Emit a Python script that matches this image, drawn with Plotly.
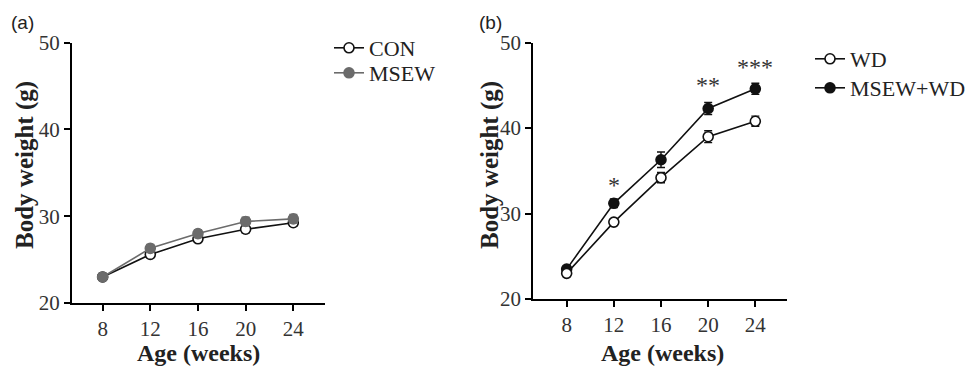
import plotly.graph_objects as go

weeks = [8, 12, 16, 20, 24]
week_ticks = ["8", "12", "16", "20", "24"]
y_ticks = [20, 30, 40, 50]

# Panel (a)
con_mean = [23.0, 25.6, 27.4, 28.5, 29.25]
con_err = [0.3, 0.35, 0.35, 0.4, 0.4]
msew_mean = [23.0, 26.3, 28.0, 29.4, 29.7]
msew_err = [0.3, 0.45, 0.45, 0.5, 0.5]

# Panel (b)
wd_mean = [23.0, 29.0, 34.2, 39.0, 40.8]
wd_err = [0.25, 0.35, 0.6, 0.7, 0.6]
mwd_mean = [23.5, 31.2, 36.3, 42.3, 44.6]
mwd_err = [0.25, 0.5, 0.9, 0.7, 0.65]

sig_weeks = [12, 20, 24]
sig_labels = ["*", "**", "***"]
sig_y = [33.4, 45.1, 47.2]

SERIF = "Liberation Serif, Times New Roman, serif"
GRAY = "#6b6b6b"

W, H = 973, 371

fig = go.Figure()

def add_series(x, y, e, name, color, fill, xa, ya, legend):
    fig.add_trace(go.Scatter(
        x=x, y=y, name=name, mode="lines+markers",
        xaxis=xa, yaxis=ya, legend=legend,
        line=dict(color=color, width=1.6),
        marker=dict(symbol="circle", size=10, color=fill,
                    line=dict(color=color, width=1.6)),
        error_y=dict(type="data", array=e, visible=True, color=color,
                     thickness=1.4, width=4),
    ))

add_series(weeks, con_mean, con_err, "CON", "#111111", "white", "x", "y", "legend")
add_series(weeks, msew_mean, msew_err, "MSEW", GRAY, GRAY, "x", "y", "legend2")
add_series(weeks, mwd_mean, mwd_err, "MSEW+WD", "#111111", "#111111", "x2", "y2", "legend4")
add_series(weeks, wd_mean, wd_err, "WD", "#111111", "white", "x2", "y2", "legend3")

def xd(p0, p1):
    return [p0 / W, p1 / W]

def yd(top, bottom):
    return [1 - bottom / H, 1 - top / H]

axis_common = dict(
    showline=True, linecolor="black", linewidth=2,
    ticks="outside", ticklen=6, tickwidth=2, tickcolor="black",
    showgrid=False, zeroline=False, automargin=False,
    tickfont=dict(family=SERIF, size=21, color="#333333"),
)

def leg(xpix, ypix):
    return dict(x=xpix / W, y=1 - ypix / H, xanchor="left", yanchor="middle",
                font=dict(family=SERIF, size=22, color="#222222"),
                bgcolor="rgba(0,0,0,0)", itemwidth=30)

fig.update_layout(
    width=W, height=H,
    margin=dict(l=0, r=0, t=0, b=0, pad=0),
    paper_bgcolor="white", plot_bgcolor="white",
    xaxis=dict(domain=xd(72, 325), range=[5.43, 26.66], anchor="y",
               tickvals=weeks, ticktext=week_ticks, **axis_common),
    yaxis=dict(domain=yd(42.7, 303), range=[20, 50], anchor="x",
               tickvals=y_ticks, **axis_common),
    xaxis2=dict(domain=xd(533.3, 786.7), range=[5.17, 26.66], anchor="y2",
                tickvals=weeks, ticktext=week_ticks, **axis_common),
    yaxis2=dict(domain=yd(42.7, 299), range=[20, 50], anchor="x2",
                tickvals=y_ticks, **axis_common),
    legend=leg(329, 48),
    legend2=leg(329, 73),
    legend3=leg(810, 59),
    legend4=leg(810, 88),
    showlegend=True,
)

annotations = []
for txt, x in [("(a)", 22), ("(b)", 490)]:
    annotations.append(dict(text=txt, x=x / W, y=1 - 22 / H, xref="paper", yref="paper",
                            showarrow=False, xanchor="center", yanchor="middle",
                            font=dict(family="Liberation Sans, Arial, sans-serif", size=19, color="#222222")))
for x in [25, 490]:
    annotations.append(dict(text="<b>Body weight (g)</b>", x=x / W, y=1 - 165 / H,
                            xref="paper", yref="paper", showarrow=False, textangle=-90,
                            xanchor="center", yanchor="middle",
                            font=dict(family=SERIF, size=25, color="#222222")))
for x in [198, 662]:
    annotations.append(dict(text="<b>Age (weeks)</b>", x=x / W, y=1 - 353 / H,
                            xref="paper", yref="paper", showarrow=False,
                            xanchor="center", yanchor="middle",
                            font=dict(family=SERIF, size=24, color="#222222")))
for wk, lab, yy in zip(sig_weeks, sig_labels, sig_y):
    annotations.append(dict(text=lab, x=wk, y=yy, xref="x2", yref="y2", showarrow=False,
                            xanchor="center", yanchor="middle",
                            font=dict(family=SERIF, size=24, color="#333333")))
fig.update_layout(annotations=annotations)

fig.write_html("out.html")
